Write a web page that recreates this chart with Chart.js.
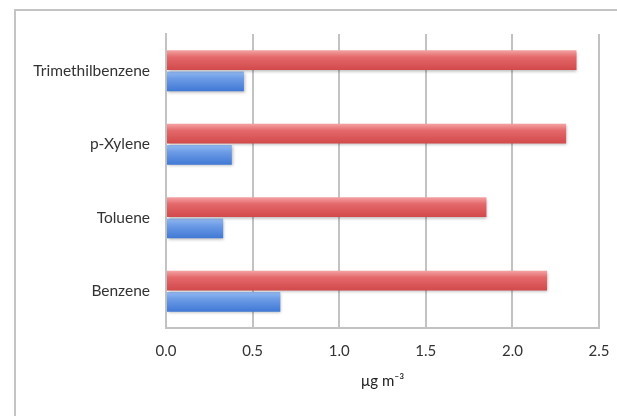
<!DOCTYPE html>
<html>
<head>
<meta charset="utf-8">
<script src="https://cdn.jsdelivr.net/npm/chart.js@4.4.1/dist/chart.umd.min.js"></script>
<style>
  html, body { margin: 0; padding: 0; background: #ffffff; }
  #wrap { position: relative; width: 617px; height: 416px; overflow: hidden; }
  #frame { position: absolute; left: 14px; top: 9px; width: 700px; height: 500px;
           border-left: 2px solid #c4c4c4; border-top: 2px solid #c4c4c4; box-sizing: border-box; }
  #c { position: absolute; left: 0; top: 0; }
</style>
</head>
<body>
<div id="wrap">
  <div id="frame"></div>
  <canvas id="c" width="617" height="416"></canvas>
</div>
<script>
// Categories listed top to bottom as drawn
const categories = ['Trimethilbenzene', 'p-Xylene', 'Toluene', 'Benzene'];
const redValues = [2.37, 2.31, 1.85, 2.20];
const blueValues = [0.45, 0.38, 0.33, 0.66];
const xTicks = [0, 0.5, 1.0, 1.5, 2.0, 2.5];
const axisTitle = 'µg m⁻³';

const CAT_PCT = 0.58, BAR_PCT = 0.93;

function gradFill(stops) {
  return function(ctx) {
    const chart = ctx.chart;
    const ys = chart.scales.y;
    if (!chart.chartArea || !ys || ys.top === undefined || ctx.dataIndex === undefined) return stops[1];
    const catH = (ys.bottom - ys.top) / categories.length;
    const center = ys.getPixelForValue(ctx.dataIndex);
    const thick = catH * CAT_PCT / 2 * BAR_PCT;
    const off = (ctx.datasetIndex === 0 ? -1 : 1) * catH * CAT_PCT / 4;
    const top = center + off - thick / 2;
    const g = chart.ctx.createLinearGradient(0, top, 0, top + thick);
    g.addColorStop(0, stops[0]);
    g.addColorStop(0.35, stops[1]);
    g.addColorStop(1, stops[2]);
    return g;
  };
}

const shadowPlugin = {
  id: 'barShadow',
  beforeDatasetDraw(chart) {
    const c = chart.ctx;
    c.save();
    c.shadowColor = 'rgba(0,0,0,0.28)';
    c.shadowBlur = 3;
    c.shadowOffsetX = 1;
    c.shadowOffsetY = 1.5;
  },
  afterDatasetDraw(chart) { chart.ctx.restore(); }
};

const FONT = 'Lato, "Open Sans", sans-serif';

new Chart(document.getElementById('c'), {
  type: 'bar',
  data: {
    labels: categories,
    datasets: [
      { data: redValues, backgroundColor: gradFill(['#f4a3a4', '#e4686a', '#d2494b']), borderWidth: 0,
        categoryPercentage: CAT_PCT, barPercentage: BAR_PCT },
      { data: blueValues, backgroundColor: gradFill(['#93baf2', '#6d9ce6', '#3f78d5']), borderWidth: 0,
        categoryPercentage: CAT_PCT, barPercentage: BAR_PCT }
    ]
  },
  plugins: [shadowPlugin],
  options: {
    indexAxis: 'y',
    responsive: false,
    animation: false,
    layout: { padding: { top: 34, left: 0, right: 18, bottom: 0 } },
    plugins: { legend: { display: false }, tooltip: { enabled: false } },
    scales: {
      x: {
        min: 0, max: 2.5,
        afterBuildTicks(scale) { scale.ticks = xTicks.map(v => ({ value: v })); },
        afterFit(scale) { scale.height = 88; scale.paddingRight = 0; scale.paddingLeft = 0; },
        ticks: { callback: v => Number(v).toFixed(1), color: '#333333', padding: 14,
                 font: { family: FONT, size: 15 }, maxRotation: 0 },
        grid: { color: '#c2c2c2', lineWidth: 2, drawTicks: false },
        border: { color: '#c2c2c2', width: 2 },
        title: { display: true, text: axisTitle, color: '#222222',
                 font: { family: FONT, size: 15 }, padding: { top: 0, bottom: 26 } }
      },
      y: {
        afterFit(scale) { scale.width = 166; },
        ticks: { color: '#333333', padding: 16, font: { family: FONT, size: 15.5 } },
        grid: { display: false, drawTicks: false },
        border: { color: '#c2c2c2', width: 2 }
      }
    }
  }
});
</script>
</body>
</html>
